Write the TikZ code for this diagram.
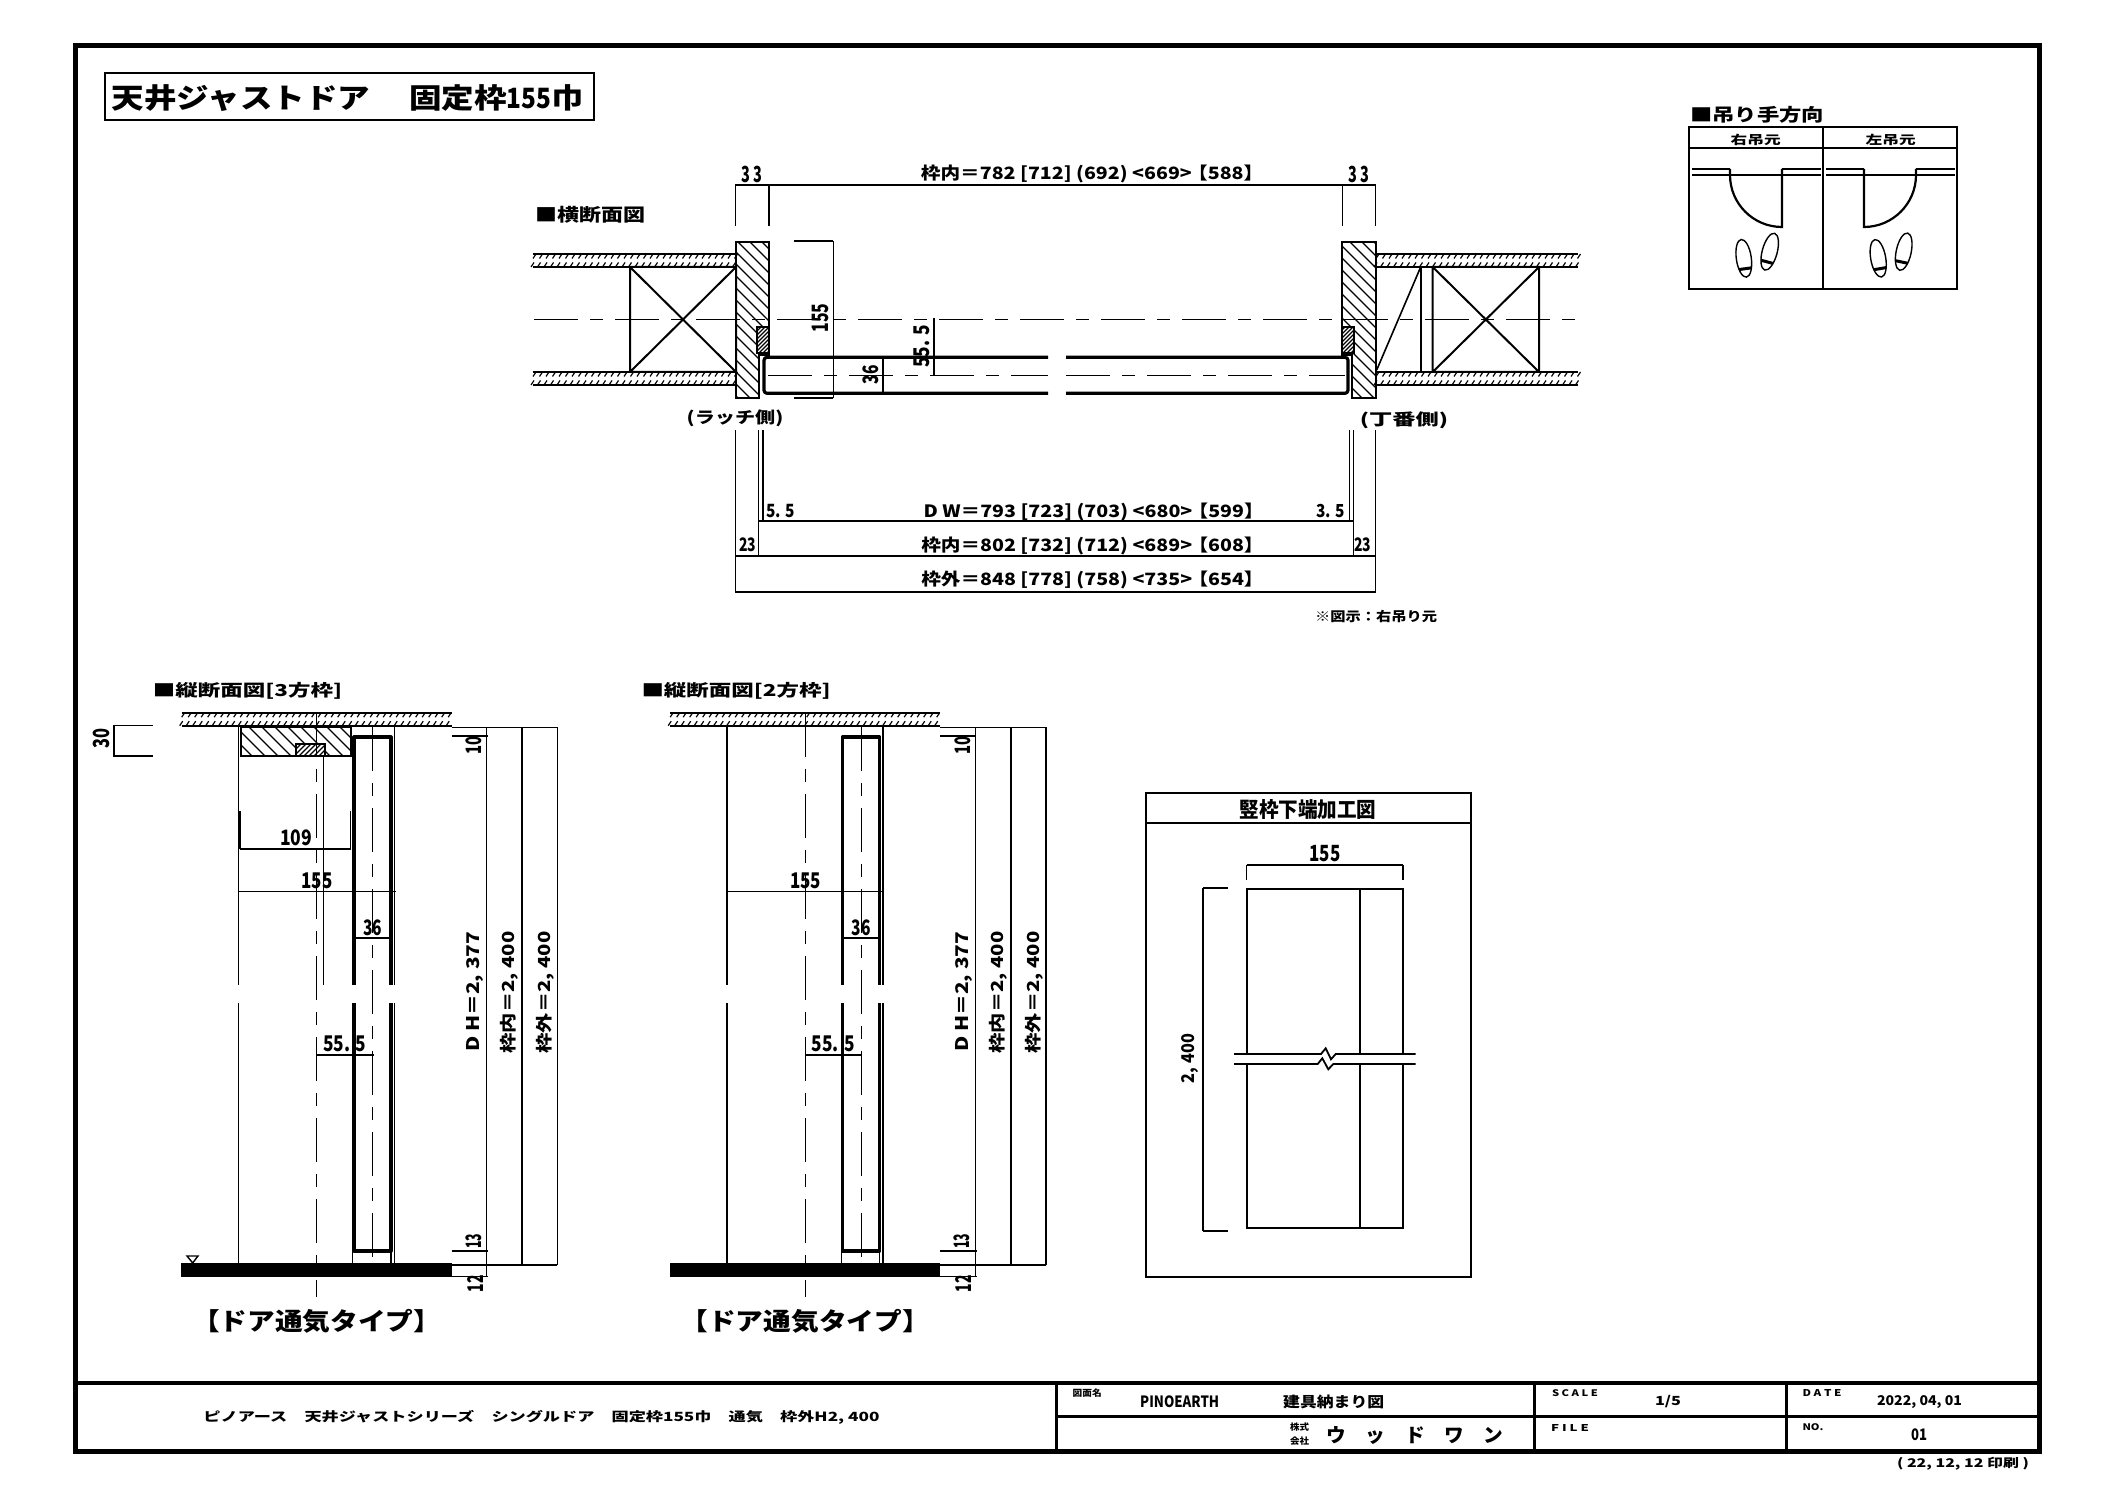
\documentclass[tikz,border=0pt]{standalone}
\usepackage{graphicx}
\usepackage{fontspec}
\newfontfamily\jp{Noto Sans CJK JP}
\newlength\pu \setlength\pu{0.5pt}
\newcommand\lbk{\kern-.42em【}
\newcommand\rbk{】\kern-.42em}
\tikzset{
  txt/.style={inner sep=0pt,outer sep=0pt,font=\jp\bfseries},
  thin line/.style={line width=0.7pt,line cap=butt},
  mid line/.style={line width=1pt,line join=miter},
  heavy/.style={line width=1.6pt,line join=round},
  frameline/.style={line width=2.5pt},
  cl/.style={line width=0.7pt,dash pattern=on 22pt off 6pt on 6.5pt off 6pt},
  hatch/.style={line width=0.6pt},
}
\newcommand\tx[7][0]{\node[txt,rotate=#1,shift={({1.5*sin(#1)},{1.5*cos(#1)})}] (#2) at (#3,#4) {\resizebox*{#5\pu}{#6\pu}{#7}};}
% horizontal board with tick rows
\newcommand\board[3]{%
  \draw[line width=1.1pt] (#1,#2) -- (#3,#2);
  \draw[line width=1.1pt] (#1,#2+13) -- (#3,#2+13);
  \pgfmathtruncatemacro\nticks{(#3-#1)/6.5}
  \foreach \k in {0,...,\nticks}{
    \draw[line width=0.6pt] ({#1+\k*6.5},#2+4.5) -- ++(3,-4.5);
    \draw[line width=0.6pt] ({#1+\k*6.5-2},#2+13) -- ++(3,-4.5);
  }
}
\newcommand\vsect[1]{%
  \board{181.7}{712.7}{451.7}
  % door
  \draw[heavy] (354,985) -- (354,737) -- (391,737) -- (391,985);
  \draw[heavy] (354,1003) -- (354,1251) -- (391,1251) -- (391,1003);
  % verticals
  \draw[thin line] (238.3,727) -- (238.3,985) (238.3,1003) -- (238.3,1263);
  \draw[thin line] (394.3,727) -- (394.3,985) (394.3,1003) -- (394.3,1263);
  \draw[thin line] (352.7,1251) -- (352.7,1263) (391,1251) -- (391,1263);
  \draw[cl] (316.7,713) -- (316.7,1297);
  \draw[cl] (372.7,727) -- (372.7,1263);
  % floor
  \fill[black] (181,1263) rectangle (451.7,1277);
  % dims
  \draw[thin line] (237.7,891.7) -- (395.7,891.7);
  \draw[thin line] (355,938) -- (390,938);
  \draw[thin line] (316,1055) -- (373.5,1055);
  \draw[thin line] (451.7,727.3) -- (557.3,727.3);
  \draw[thin line] (451.7,736) -- (487.5,736);
  \draw[thin line] (451.7,1251) -- (488,1251);
  \draw[thin line] (451.7,1265) -- (557.3,1265);
  \draw[thin line] (451.7,1276.7) -- (488,1276.7);
  \draw[thin line] (486.7,727.3) -- (486.7,1276.7);
  \draw[line width=1pt] (522,727.3) -- (522,1265);
  \draw[thin line] (557.3,727.3) -- (557.3,1265);
  % labels
  \tx{s155#1}{317}{879}{31}{16}{155}
  \tx{s36#1}{372.8}{926}{19}{16}{36}
  \tx{s555#1}{344.7}{1042.7}{43}{16}{55. 5}
  \tx[90]{s10#1}{474}{747}{18}{16}{10}
  \tx[90]{sdh#1}{475}{993.3}{120}{17}{D H＝2, 377}
  \tx[90]{snai#1}{509.5}{994}{122}{18}{枠内＝2, 400}
  \tx[90]{sgai#1}{545.5}{994}{122}{18}{枠外＝2, 400}
  \tx[90]{s13#1}{473.3}{1242.5}{15}{16}{13}
  \tx[90]{s12#1}{475}{1285}{17}{16}{12}
  \tx{stype#1}{316.7}{1320}{226}{24}{\lbk ドア通気タイプ\rbk}
}
\newcommand\shoe[3]{%
  \begin{scope}[shift={(#1,#2)},rotate=#3]
    \draw[line width=0.7pt] (0,0) ellipse [x radius=7.5,y radius=19];
    \begin{scope}
      \clip (0,0) ellipse [x radius=7.5,y radius=19];
      \fill[black] (-8,9) rectangle (8,12);
    \end{scope}
  \end{scope}
}
\begin{document}
\begin{tikzpicture}[x=0.5pt,y=-0.5pt]
\useasboundingbox (0,0) rectangle (2117,1497);
\fill[white] (0,0) rectangle (2117,1497);
% outer frame and title box
\draw[frameline] (75.5,45.5) rectangle (2039,1451);
\draw[line width=0.9pt] (104.6,73.3) rectangle (594,120);
\tx{title}{348}{96.5}{472}{27}{天井ジャストドア\hspace{.2em}　固定枠\scalebox{.75}[1]{155}巾}
% title block
\draw[line width=2pt] (75.5,1383) -- (2039,1383);
\draw[line width=1.4pt] (1056.7,1383) -- (1056.7,1451);
\draw[line width=1.4pt] (1534.5,1383) -- (1534.5,1451);
\draw[line width=1.4pt] (1786.6,1383) -- (1786.6,1451);
\draw[line width=1.4pt] (1056.7,1416.7) -- (2039,1416.7);
\tx{tbname}{541.5}{1416}{676}{14}{ピノアース　天井ジャストシリーズ　シングルドア　固定枠155巾　通気　枠外H2, 400}
\tx{tbzm}{1087.2}{1392}{29}{8.5}{図面名}
\tx{tbpino}{1179.7}{1400}{79}{12}{PINOEARTH}
\tx{tbnoma}{1333.7}{1400}{101}{14}{建具納まり図}
\tx{tbk1}{1299.5}{1426}{19}{8.5}{株式}
\tx{tbk2}{1299.5}{1440}{19}{8.5}{会社}
\tx{tbwood}{1415}{1434}{177}{18}{ウ　ッ　ド　ワ　ン}
\tx{tbscale}{1575}{1392}{46}{7}{S C A L E}
\tx{tbscv}{1668}{1400}{26}{12.5}{1/5}
\tx{tbdate}{1822}{1391}{39}{7}{D A T E}
\tx{tbdatev}{1919.5}{1401}{85}{13}{2022, 04, 01}
\tx{tbfile}{1570}{1426}{38}{7}{F I L E}
\tx{tbno}{1813}{1426}{21}{7}{NO.}
\tx{tbnov}{1919}{1433}{16}{12}{01}
\tx{tbprint}{1963}{1462.5}{132}{13}{( 22, 12, 12  印刷 )}
% ------- horizontal section
\tx{hsec}{590}{213.3}{110}{17}{■横断面図}
\board{533}{254}{736}
\board{533}{372}{736}
\board{1376}{254}{1578}
\board{1376}{372}{1578}
% studs
\draw[mid line] (630,267) rectangle (736,372) (630,267) -- (736,372) (630,372) -- (736,267);
\draw[mid line] (1432.7,267) rectangle (1539,372) (1432.7,267) -- (1539,372) (1432.7,372) -- (1539,267);
\draw[mid line] (1420.7,267) -- (1420.7,372);
\draw[line width=0.8pt] (1376.7,370) -- (1420.7,267);
% jambs
\begin{scope}
  \clip (736,242) -- (769,242) -- (769,355) -- (759.3,355) -- (759.3,398) -- (736,398) -- cycle;
  \foreach \k in {340,352,...,530}{\draw[hatch] ({\k+230},230) -- ({\k+410},410);}
\end{scope}
\begin{scope}
  \clip (1342,242) -- (1376,242) -- (1376,398) -- (1352,398) -- (1352,355) -- (1342,355) -- cycle;
  \foreach \k in {940,952,...,1140}{\draw[hatch] ({\k+230},230) -- ({\k+410},410);}
\end{scope}
\draw[mid line] (736,242) -- (769,242) -- (769,355) -- (759.3,355) -- (759.3,398) -- (736,398) -- cycle;
\draw[mid line] (1342,242) -- (1376,242) -- (1376,398) -- (1352,398) -- (1352,355) -- (1342,355) -- cycle;
% stops
\fill[white] (756.7,327) rectangle (769,353);
\fill[white] (1342,327) rectangle (1354,353);
\begin{scope}
  \clip (756.7,327) rectangle (769,353);
  \foreach \k in {1080,1084,...,1130}{\draw[hatch] ({\k-320},320) -- ({\k-360},360);}
\end{scope}
\begin{scope}
  \clip (1342,327) rectangle (1354,353);
  \foreach \k in {1660,1664,...,1720}{\draw[hatch] ({\k-320},320) -- ({\k-360},360);}
\end{scope}
\draw[line width=0.8pt] (756.7,327) rectangle (769,353);
\draw[line width=0.8pt] (1342,327) rectangle (1354,353);
% centre lines
\draw[cl] (534,319.3) -- (1578,319.3);
\draw[cl] (768,375.7) -- (1048,375.7);
\draw[cl] (1066,375.7) -- (1345,375.7);
% door
\draw[heavy,rounded corners=1.5pt] (1048,357.3) -- (764,357.3) -- (764,393.3) -- (1048,393.3);
\draw[heavy,rounded corners=1.5pt] (1066,357.3) -- (1348,357.3) -- (1348,393.3) -- (1066,393.3);
% dims top
\draw[thin line] (735.3,185) -- (1375.7,185);
\draw[thin line] (735.3,185) -- (735.3,226) (769,185) -- (769,226) (1342.3,185) -- (1342.3,226) (1375.7,185) -- (1375.7,226);
\tx{d33a}{752}{172.7}{21}{16.7}{3 3}
\tx{d33b}{1358.8}{172.7}{21}{16.7}{3 3}
\tx{dtop}{1088}{172.7}{334}{18}{枠内＝782 [712] (692) <669> \lbk 588\rbk}
% 155, 36, 55.5
\draw[thin line] (794,241) -- (833.3,241) (794,398) -- (833.3,398);
\draw[line width=0.8pt] (833.3,241) -- (833.3,398);
\draw[thin line] (883,357.3) -- (883,393.3);
\draw[thin line] (934,318) -- (934,376);
\tx[90]{d155}{820}{319.5}{29}{16.7}{155}
\tx[90]{d36}{870.3}{376.2}{19}{16}{36}
\tx[90]{d555}{921.3}{348}{43}{16}{55. 5}
\tx{latch}{735}{416.7}{96.6}{17}{(ラッチ側)}
\tx{hinge}{1404}{418.3}{88.3}{17}{(丁番側)}
% dims bottom
\draw[thin line] (735.5,430) -- (735.5,592) (758.7,430) -- (758.7,556) (763,430) -- (763,521);
\draw[thin line] (1349.5,430) -- (1349.5,521) (1353.6,430) -- (1353.6,556) (1375.5,430) -- (1375.5,592);
\draw[thin line] (758.7,521) -- (1353.6,521);
\draw[thin line] (735.5,556) -- (1375.5,556);
\draw[line width=1pt] (735,592) -- (1376,592);
\tx{d55}{780.8}{510}{29}{13.5}{5. 5}
\tx{d35}{1330.6}{510}{29}{13.5}{3. 5}
\tx{ddw}{1089.5}{510}{332}{18}{D W＝793 [723] (703) <680> \lbk 599\rbk}
\tx{d23a}{747.6}{543.3}{17}{14}{23}
\tx{d23b}{1362.7}{543.3}{17}{14}{23}
\tx{dnai}{1088.3}{544}{334}{18}{枠内＝802 [732] (712) <689> \lbk 608\rbk}
\tx{dgai}{1088.3}{578}{334}{18}{枠外＝848 [778] (758) <735> \lbk 654\rbk}
\tx{dnote}{1376}{615}{122}{12.5}{※図示：右吊り元}
% ------- hanging direction table
\tx{hang}{1757}{113}{134}{17}{■吊り手方向}
\draw[line width=1pt] (1689,127) rectangle (1957,289);
\draw[line width=1pt] (1689,148) -- (1957,148);
\draw[line width=1pt] (1823,127) -- (1823,289);
\tx{hr}{1755.7}{138.3}{50}{11.5}{右吊元}
\tx{hl}{1890.7}{138.3}{50}{11.5}{左吊元}
\draw[line width=0.9pt] (1692,169) -- (1730,169) (1782,169) -- (1821,169) (1692,175) -- (1821,175);
\draw[line width=0.9pt] (1826,169) -- (1864,169) (1916,169) -- (1955,169) (1826,175) -- (1955,175);
\draw[line width=1.1pt] (1730,169) -- (1730,175) .. controls (1730,203.7) and (1753.3,227) .. (1782,227) -- (1782,169);
\draw[line width=1.1pt] (1916,169) -- (1916,175) .. controls (1916,203.7) and (1892.7,227) .. (1864,227) -- (1864,169);
\shoe{1743.8}{258.3}{8}
\shoe{1769.7}{251.7}{-15}
\shoe{1878.2}{258.3}{10}
\shoe{1903.7}{251.7}{-12}
% ------- vertical section 3-way
\tx{vs1}{247.5}{689}{189}{17}{■縦断面図[3方枠]}
\begin{scope}
  \clip (241,726.7) rectangle (350.7,756);
  \foreach \k in {-530,-517,...,-370}{\draw[hatch] ({\k+720},720) -- ({\k+760},760);}
\end{scope}
\draw[mid line] (241,726.7) rectangle (350.7,756);
\fill[white] (296,744) rectangle (325,756);
\begin{scope}
  \clip (296,744) rectangle (325,756);
  \foreach \k in {1030,1035,...,1090}{\draw[hatch] ({\k-740},740) -- ({\k-760},760);}
\end{scope}
\draw[line width=0.8pt] (296,744) rectangle (325,756);
\draw[thin line] (323.3,756) -- (323.3,985);
\draw[line width=0.8pt] (152.7,725.7) -- (114,725.7) -- (114,756) -- (152.7,756);
\tx[90]{d30}{101.7}{740}{20}{16.7}{30}
\draw[thin line] (240,811) -- (240,849) (350.7,811) -- (350.7,849) (240,849) -- (350.7,849);
\tx{d109}{296}{836.7}{32}{16}{109}
\vsect{a}
\draw[line width=0.7pt] (187,1256) -- (198,1256) -- (192.7,1263) -- cycle;
% ------- vertical section 2-way
\tx{vs2}{736}{689}{189}{17}{■縦断面図[2方枠]}
\begin{scope}[shift={(488.5,0)}]
\vsect{b}
\end{scope}
% ------- frame bottom detail
\draw[line width=1pt] (1145.7,792.7) rectangle (1471,1277);
\draw[line width=1pt] (1145.7,822.7) -- (1471,822.7);
\tx{fbtitle}{1308}{807.7}{137}{20}{竪枠下端加工図}
\tx{fb155}{1325}{852}{31}{16.5}{155}
\draw[thin line] (1246.7,865) -- (1403,865);
\draw[line width=0.7pt] (1246.7,865) -- (1246.7,880) (1403,865) -- (1403,880);
\draw[line width=0.9pt] (1246.7,1054) -- (1246.7,888.7) -- (1403,888.7) -- (1403,1054);
\draw[line width=0.9pt] (1246.7,1064) -- (1246.7,1228) -- (1403,1228) -- (1403,1064);
\draw[line width=0.9pt] (1360,888.7) -- (1360,1054) (1360,1064) -- (1360,1228);
\draw[line width=0.9pt] (1234,1054) -- (1321,1054) -- (1325.7,1048.3) -- (1331,1059.3) -- (1335.7,1054) -- (1415.7,1054);
\draw[line width=0.9pt] (1234,1064) -- (1317.7,1064) -- (1322.3,1058.3) -- (1328.3,1069.3) -- (1333.3,1064) -- (1415.7,1064);
\draw[thin line] (1203,888) -- (1203,1231);
\draw[thin line] (1203,888) -- (1227.7,888) (1203,1231) -- (1227.7,1231);
\tx[90]{fb2400}{1190}{1060}{49}{17}{2, 400}
\end{tikzpicture}
\end{document}
